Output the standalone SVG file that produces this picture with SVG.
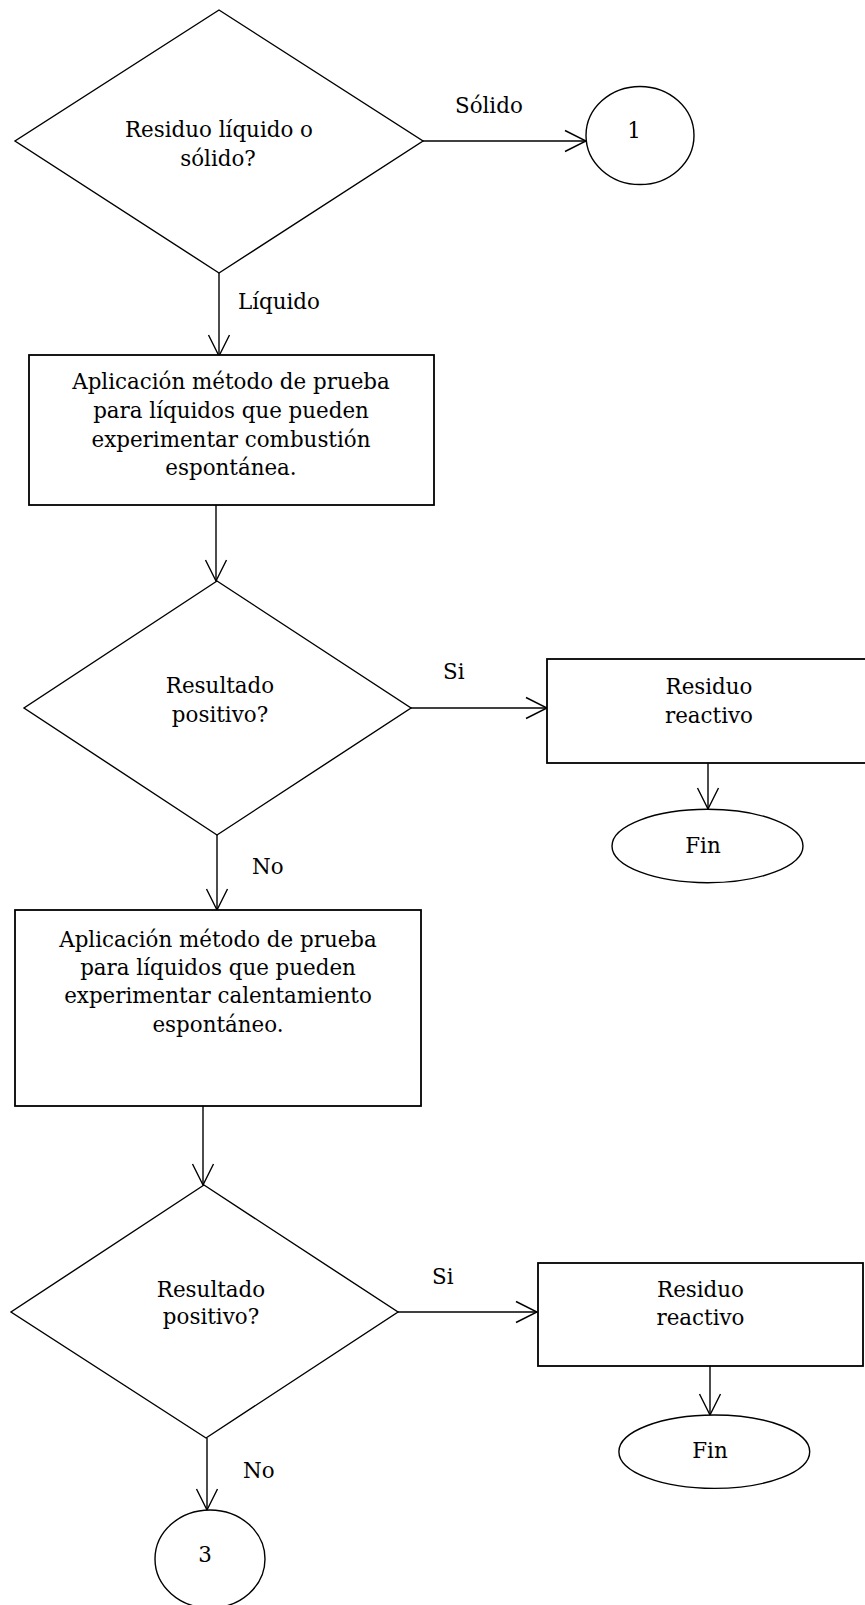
<svg xmlns="http://www.w3.org/2000/svg" width="865" height="1605" viewBox="0 0 865 1605">
<style>
  .shape { fill: #ffffff; stroke: #000000; stroke-width: 1.4; }
  .box { fill: #ffffff; stroke: #000000; stroke-width: 1.8; }
  .conn { fill: none; stroke: #000000; stroke-width: 1.4; }
  text { font-family: "DejaVu Serif", "Liberation Serif", serif; font-size: 21.4px; fill: #000000; }
  .c { text-anchor: middle; }
</style>
<defs>
  <marker id="arrow" viewBox="-24 -12 26 24" refX="0" refY="0" markerWidth="26" markerHeight="24" markerUnits="userSpaceOnUse" orient="auto">
    <path d="M-21,-10.5 L0,0 L-21,10.5" fill="none" stroke="#000000" stroke-width="1.4"/>
  </marker>
</defs>
<rect x="0" y="0" width="865" height="1605" fill="#ffffff"/>

<g id="connectors">
  <line class="conn" x1="219" y1="273" x2="219" y2="356" marker-end="url(#arrow)"/>
  <line class="conn" x1="423" y1="141" x2="586" y2="141" marker-end="url(#arrow)"/>
  <line class="conn" x1="216" y1="505" x2="216" y2="581" marker-end="url(#arrow)"/>
  <line class="conn" x1="411" y1="708" x2="547" y2="708" marker-end="url(#arrow)"/>
  <line class="conn" x1="708" y1="763" x2="708" y2="809" marker-end="url(#arrow)"/>
  <line class="conn" x1="217" y1="835" x2="217" y2="910" marker-end="url(#arrow)"/>
  <line class="conn" x1="203" y1="1106" x2="203" y2="1185" marker-end="url(#arrow)"/>
  <line class="conn" x1="398" y1="1312" x2="537" y2="1312" marker-end="url(#arrow)"/>
  <line class="conn" x1="710" y1="1366" x2="710" y2="1415" marker-end="url(#arrow)"/>
  <line class="conn" x1="207" y1="1438" x2="207" y2="1510" marker-end="url(#arrow)"/>
  <text x="238" y="309">Líquido</text>
  <text x="455" y="113">Sólido</text>
  <text x="443" y="679">Si</text>
  <text x="252" y="874">No</text>
  <text x="432" y="1284">Si</text>
  <text x="243" y="1478">No</text>
</g>

<g id="decision1">
  <polygon class="shape" points="219,10 423,141 219,273 15,141"/>
  <text class="c" x="219" y="137">Residuo líquido o</text>
  <text class="c" x="218" y="166">sólido?</text>
</g>

<g id="connector1">
  <ellipse class="shape" cx="640" cy="135.5" rx="54" ry="49"/>
  <text class="c" x="634" y="138">1</text>
</g>

<g id="process1">
  <rect class="box" x="29" y="355" width="405" height="150"/>
  <text class="c" x="231" y="389">Aplicación método de prueba</text>
  <text class="c" x="231" y="418">para líquidos que pueden</text>
  <text class="c" x="231" y="447">experimentar combustión</text>
  <text class="c" x="231" y="475">espontánea.</text>
</g>

<g id="decision2">
  <polygon class="shape" points="217,581 411,708 217,835 24,708"/>
  <text class="c" x="220" y="693">Resultado</text>
  <text class="c" x="220" y="722">positivo?</text>
</g>

<g id="reactive1">
  <rect class="box" x="547" y="659" width="325" height="104"/>
  <text class="c" x="709" y="694">Residuo</text>
  <text class="c" x="709" y="723">reactivo</text>
</g>

<g id="end1">
  <ellipse class="shape" cx="707.5" cy="846" rx="95.5" ry="36.7"/>
  <text class="c" x="703" y="853">Fin</text>
</g>

<g id="process2">
  <rect class="box" x="15" y="910" width="406" height="196"/>
  <text class="c" x="218" y="947">Aplicación método de prueba</text>
  <text class="c" x="218" y="975">para líquidos que pueden</text>
  <text class="c" x="218" y="1003">experimentar calentamiento</text>
  <text class="c" x="218" y="1032">espontáneo.</text>
</g>

<g id="decision3">
  <polygon class="shape" points="204,1185 398,1312 206,1438 11,1312"/>
  <text class="c" x="211" y="1297">Resultado</text>
  <text class="c" x="211" y="1324">positivo?</text>
</g>

<g id="reactive2">
  <rect class="box" x="538" y="1263" width="325" height="103"/>
  <text class="c" x="700.5" y="1297">Residuo</text>
  <text class="c" x="700.5" y="1325">reactivo</text>
</g>

<g id="end2">
  <ellipse class="shape" cx="714.3" cy="1451.7" rx="95.4" ry="36.7"/>
  <text class="c" x="710" y="1458">Fin</text>
</g>

<g id="connector3">
  <ellipse class="shape" cx="210" cy="1559" rx="55" ry="49"/>
  <text class="c" x="205" y="1562">3</text>
</g>
</svg>
